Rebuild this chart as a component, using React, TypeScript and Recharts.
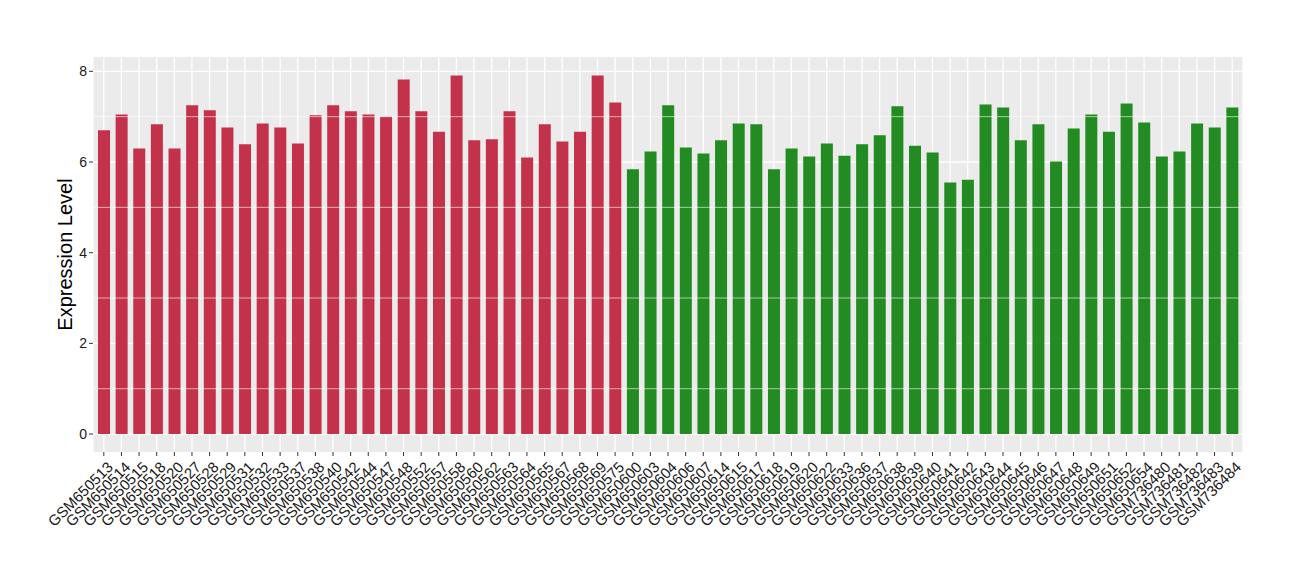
import { BarChart, Bar, XAxis, YAxis, CartesianGrid, ReferenceLine, Cell } from 'recharts';

// Samples in the first group (red)
const redSamples = [
  'GSM650513', 'GSM650514', 'GSM650515', 'GSM650518', 'GSM650520', 'GSM650527', 'GSM650528', 'GSM650529',
  'GSM650531', 'GSM650532', 'GSM650533', 'GSM650537', 'GSM650538', 'GSM650540', 'GSM650542', 'GSM650544',
  'GSM650547', 'GSM650548', 'GSM650552', 'GSM650557', 'GSM650558', 'GSM650560', 'GSM650562', 'GSM650563',
  'GSM650564', 'GSM650565', 'GSM650567', 'GSM650568', 'GSM650569', 'GSM650575',
];
const redValues = [
  6.70, 7.05, 6.30, 6.83, 6.30, 7.25, 7.14, 6.76, 6.39, 6.85, 6.76, 6.41, 7.03, 7.25, 7.12,
  7.05, 7.00, 7.82, 7.12, 6.67, 7.91, 6.48, 6.50, 7.12, 6.10, 6.83, 6.45, 6.67, 7.91, 7.31,
];

// Samples in the second group (green)
const greenSamples = [
  'GSM650600', 'GSM650603', 'GSM650604', 'GSM650606', 'GSM650607', 'GSM650614', 'GSM650615', 'GSM650617',
  'GSM650618', 'GSM650619', 'GSM650620', 'GSM650622', 'GSM650633', 'GSM650636', 'GSM650637', 'GSM650638',
  'GSM650639', 'GSM650640', 'GSM650641', 'GSM650642', 'GSM650643', 'GSM650644', 'GSM650645', 'GSM650646',
  'GSM650647', 'GSM650648', 'GSM650649', 'GSM650651', 'GSM650652', 'GSM650654', 'GSM736480', 'GSM736481',
  'GSM736482', 'GSM736483', 'GSM736484',
];
const greenValues = [
  5.84, 6.23, 7.25, 6.32, 6.19, 6.48, 6.85, 6.83, 5.84, 6.30, 6.12, 6.41, 6.14, 6.39, 6.59, 7.23,
  6.36, 6.21, 5.55, 5.61, 7.27, 7.20, 6.48, 6.83, 6.01, 6.74, 7.05, 6.67, 7.29, 6.87, 6.12, 6.23,
  6.85, 6.76, 7.20,
];

const yTicks = [0, 2, 4, 6, 8];
const yMinor = [1, 3, 5, 7];

const RED = '#C3324A';
const GREEN = '#228B22';
const FONT = "'Liberation Sans', Arial, sans-serif";

const data = [
  ...redSamples.map((sample, i) => ({ sample, value: redValues[i], group: 'red' })),
  ...greenSamples.map((sample, i) => ({ sample, value: greenValues[i], group: 'green' })),
];

// ggplot-style 45° labels, right end tucked under the tick
const AngledTick = ({ x, y, payload }: any) => {
  const ax = x + 10;
  const ay = y + 10;
  return (
    <text
      x={ax}
      y={ay}
      transform={`rotate(-45, ${ax}, ${ay})`}
      textAnchor="end"
      fontSize={15}
      fill="#1a1a1a"
      fontFamily={FONT}
    >
      {payload.value}
    </text>
  );
};

export default function App() {
  return (
    <div style={{ position: 'absolute', left: 0, top: 0, background: '#fff' }}>
      <BarChart
        width={1300}
        height={580}
        data={data}
        margin={{ top: 57, right: 57, bottom: 18, left: 0 }}
      >
        <CartesianGrid fill="#EBEBEB" stroke="#FFFFFF" strokeWidth={1.3} horizontalValues={yTicks} />
        {yMinor.map((v) => (
          <ReferenceLine key={v} y={v} stroke="#FFFFFF" strokeWidth={0.6} />
        ))}
        <XAxis
          dataKey="sample"
          interval={0}
          height={110}
          padding={{ left: 2, right: 2 }}
          tick={<AngledTick />}
          tickLine={{ stroke: '#333333' }}
          tickSize={4}
          axisLine={false}
        />
        <YAxis
          width={93}
          domain={[-0.396, 8.316]}
          allowDataOverflow
          ticks={yTicks}
          tickLine={{ stroke: '#333333' }}
          tickSize={4}
          axisLine={false}
          tick={{ fontSize: 14, fill: '#1a1a1a', fontFamily: FONT }}
          label={{
            value: 'Expression Level',
            angle: -90,
            position: 'insideLeft',
            offset: 65,
            style: { fontSize: 20, fill: '#000', textAnchor: 'middle', fontFamily: FONT },
          }}
        />
        <Bar dataKey="value" barSize={12} isAnimationActive={false}>
          {data.map((d, i) => (
            <Cell key={`cell-${i}`} fill={d.group === 'red' ? RED : GREEN} />
          ))}
        </Bar>
      </BarChart>
    </div>
  );
}
